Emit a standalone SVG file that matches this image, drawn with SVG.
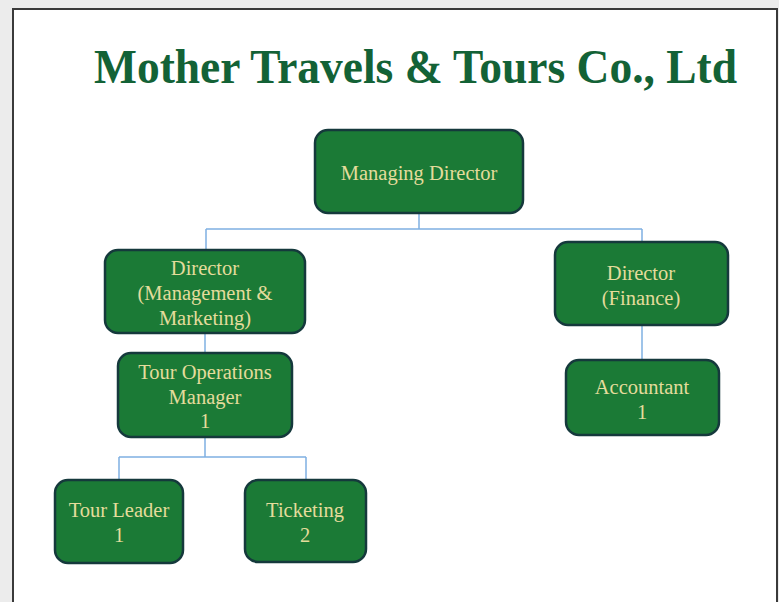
<svg xmlns="http://www.w3.org/2000/svg" width="779" height="602" viewBox="0 0 779 602">
<style>
.bg{fill:#ececec}
.frame{fill:#ffffff;stroke:#3a3a3a;stroke-width:2}
.box{fill:#1b7a36;stroke:#15393c;stroke-width:2.5}
.lbl{font-family:"Liberation Serif","Times New Roman",serif;font-size:20.5px;fill:#e4dc9c;text-anchor:middle}
.title{font-family:"Liberation Serif","Times New Roman",serif;font-size:48px;font-weight:bold;fill:#136236}
.conn{fill:none;stroke:#7fb0e2;stroke-width:1.5}
</style>
<rect class="bg" x="0" y="0" width="779" height="602"/>
<path class="frame" d="M13,610 V9 H777 V610"/>
<text class="title" x="94" y="83" textLength="643" lengthAdjust="spacingAndGlyphs">Mother Travels &amp; Tours Co., Ltd</text>
<g id="connectors">
<path class="conn" d="M419,213 V229 M206,229 H642 M206,229 V250 M642,229 V242"/>
<path class="conn" d="M205,333 V353"/>
<path class="conn" d="M205,437 V457 M119,457 H306 M119,457 V480 M306,457 V480"/>
<path class="conn" d="M642,325 V360"/>
</g>
<g id="managing-director">
<rect class="box" x="315" y="130" width="208" height="83" rx="13"/>
<text class="lbl" x="419" y="180">Managing Director</text>
</g>
<g id="director-mm">
<rect class="box" x="105" y="250" width="200" height="83" rx="13"/>
<text class="lbl" x="205" y="275">Director</text>
<text class="lbl" x="205" y="300">(Management &amp;</text>
<text class="lbl" x="205" y="325">Marketing)</text>
</g>
<g id="director-finance">
<rect class="box" x="555" y="242" width="173" height="83" rx="13"/>
<text class="lbl" x="641" y="280">Director</text>
<text class="lbl" x="641" y="305">(Finance)</text>
</g>
<g id="tour-ops-manager">
<rect class="box" x="118" y="353" width="174" height="84" rx="13"/>
<text class="lbl" x="205" y="379">Tour Operations</text>
<text class="lbl" x="205" y="404">Manager</text>
<text class="lbl" x="205" y="428">1</text>
</g>
<g id="accountant">
<rect class="box" x="566" y="360" width="153" height="75" rx="13"/>
<text class="lbl" x="642" y="394">Accountant</text>
<text class="lbl" x="642" y="419">1</text>
</g>
<g id="tour-leader">
<rect class="box" x="55" y="480" width="128" height="83" rx="13"/>
<text class="lbl" x="119" y="517">Tour Leader</text>
<text class="lbl" x="119" y="542">1</text>
</g>
<g id="ticketing">
<rect class="box" x="245" y="480" width="121" height="82" rx="13"/>
<text class="lbl" x="305" y="517">Ticketing</text>
<text class="lbl" x="305" y="542">2</text>
</g>
</svg>
